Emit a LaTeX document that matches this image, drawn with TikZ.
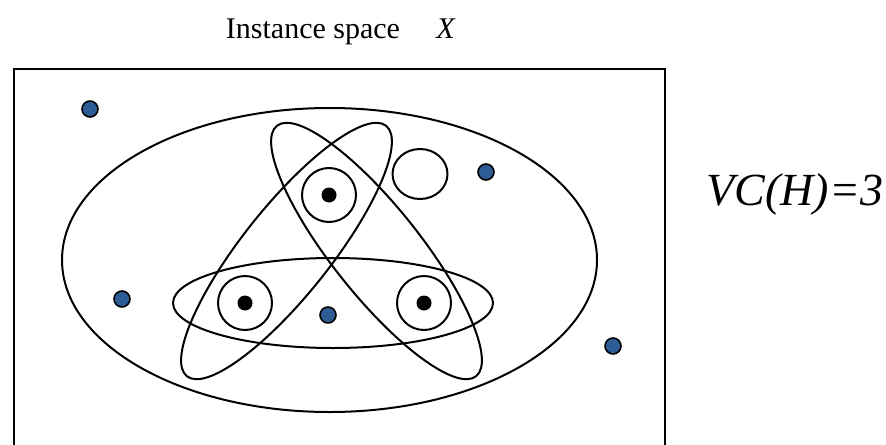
\documentclass[tikz,border=0pt]{standalone}
\usepackage{fontspec}
\setmainfont{Liberation Serif}
\usetikzlibrary{positioning}
\definecolor{ptblue}{HTML}{2C5D94}

\begin{document}
\begin{tikzpicture}[x=0.5pt, y=-0.5pt,
  curve/.style={draw=black, line width=1pt},
  bluept/.style={circle, draw=black, fill=ptblue, line width=0.8pt,
                 minimum size=8pt, inner sep=0pt},
  blackpt/.style={circle, fill=black, minimum size=7.5pt, inner sep=0pt},
  ring/.style={circle, draw=black, line width=1pt,
               minimum size=27pt, inner sep=0pt},
  title/.style={anchor=base, font=\fontsize{15}{18}\selectfont}
]
\useasboundingbox (0,0) rectangle (886,444);

% === Title ===
\node[title] (ttl) at (313,39) {Instance space};
\node[title] (ttlx) at (446,39) {\textit{X}};

% === Instance space frame (open at the bottom) ===
\draw[line width=1pt] (14,450) -- (14,69) -- (665,69) -- (665,450);

% === Centres of the concept ellipses ===
\coordinate (cbig) at (329.5,260);
\coordinate (chor) at (333,303);
\coordinate (cA)   at (376.5,251);
\coordinate (cB)   at (286.5,251);

% === Concept class: big ellipse, bar, two slanted ellipses, small circle ===
\draw[curve] (cbig) ellipse [x radius=267.5, y radius=152];
\draw[curve] (chor) ellipse [x radius=160, y radius=45];
\draw[curve, rotate around={-51.5:(cA)}] (cA) ellipse [x radius=160, y radius=44];
\draw[curve, rotate around={51.5:(cB)}]  (cB) ellipse [x radius=160, y radius=44];
\draw[curve] (420,174) ellipse [x radius=27.5, y radius=25];

% === Shattered points, each in its own singleton circle ===
\node[ring] (r1) at (329,195) {};
\node[ring] (r2) at (245,303) {};
\node[ring] (r3) at (424,303) {};
\node[blackpt] (s1) at (r1) {};
\node[blackpt] (s2) at (r2) {};
\node[blackpt] (s3) at (r3) {};

% === Other instances ===
\node[bluept] (u1) at (90,109)  {};
\node[bluept] (u2) at (486,172) {};
\node[bluept] (u3) at (122,299) {};
\node[bluept] (u4) at (328,315) {};
\node[bluept] (u5) at (613,346) {};

% === VC dimension ===
\node[anchor=base, font=\fontsize{23}{27}\selectfont\itshape] (vc)
  at (795,205) {VC(H)=3};

\end{tikzpicture}
\end{document}
